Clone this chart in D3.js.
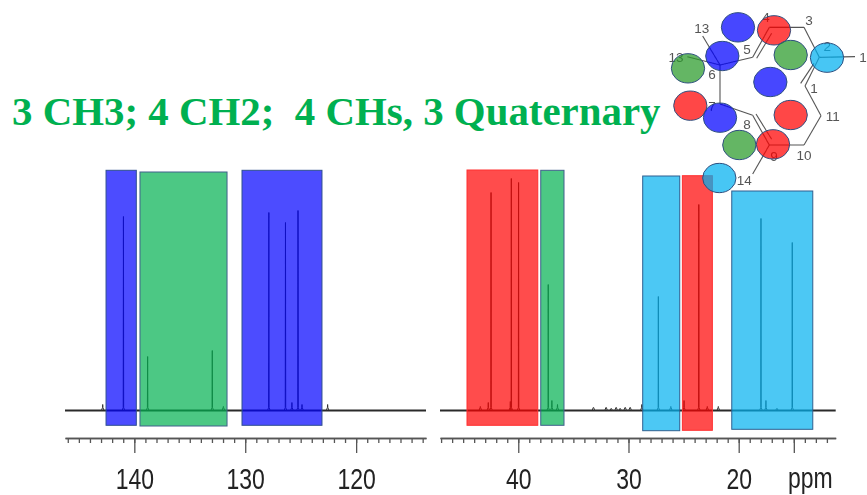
<!DOCTYPE html>
<html>
<head>
<meta charset="utf-8">
<script src="https://cdn.jsdelivr.net/npm/d3@7"></script>
<style>
  html, body { margin: 0; background: #fff; overflow: hidden; }
  svg { display: block; }
  text { font-family: "Liberation Sans", sans-serif; }
</style>
</head>
<body>
<svg id="board"></svg>
<script>
let titleText = '3 CH3; 4 CH2;  4 CHs, 3 Quaternary'

// peaks: ppm and intensity (tallest aromatic line = 100)
let leftPpm = [142.85, 140.98, 138.8, 132.97, 131.97, 127.87, 126.37, 125.79, 125.24, 124.88, 122.57]
let leftInt = [3, 97, 27, 30, 2, 99, 94, 4, 100, 3, 3]
let rightPpm = [43.44, 42.72, 42.47, 40.72, 40.63, 39.97, 37.28, 36.95, 36.44, 33.18, 32.03, 31.57, 31.12, 30.76, 30.3, 29.85, 28.79, 27.29, 26.16, 24.96, 23.62, 22.85, 21.85, 17.98, 17.53, 16.53, 15.14]
let rightInt = [2, 4, 109, 4.5, 116, 114, 63, 5, 3, 1.5, 1.5, 1, 1.5, 1, 1.5, 1.5, 3, 57, 2, 5, 103, 2, 2, 96, 5, 1, 84]

// coloured assignment bands: ppm from/to, intensity top/bottom
let bandPanel = ['L', 'L', 'L', 'R', 'R', 'R', 'R', 'R']
let bandFrom = [142.55, 139.49, 130.29, 44.65, 37.96, 28.71, 25.11, 20.63]
let bandTo = [139.82, 131.64, 123.08, 38.23, 35.85, 25.35, 22.39, 13.28]
let bandTop = [120.1, 119.25, 120.1, 120.25, 120.1, 117.25, 117.4, 109.75]
let bandBottom = [-7.4, -7.75, -7.4, -7.4, -7.4, -10.1, -9.9, -9.4]
let bandKind = ['CH', 'Q', 'CH', 'CH2', 'Q', 'CH3', 'CH2', 'CH3']

let leftMajor = [140, 130, 120]
let rightMajor = [40, 30, 20, 15]
let leftMinor = d3.range(114, 147)
let rightMinor = d3.range(12, 48)

// molecule, in its own drawing units
let atomId = [1, 2, 3, 4, 5, 6, 7, 8, 9, 10, 11, 12, 13, 15, 14]
let atomX = [435, 478, 432, 328, 278, 180, 180, 278, 328, 432, 483, 585, 128, 82, 278]
let atomY = [258, 172, 82, 82, 172, 195, 312, 346, 435, 435, 347, 170, 108, 170, 522]
let bondFrom = [1, 1, 11, 10, 9, 8, 7, 6, 5, 4, 3, 2, 6, 6, 9]
let bondTo = [2, 11, 10, 9, 8, 7, 6, 5, 4, 3, 2, 12, 13, 15, 14]
let doubleX1 = [422, 290, 288]
let doubleY1 = [250, 175, 342]
let doubleX2 = [462, 335, 335]
let doubleY2 = [190, 100, 418]
let labelText = ['1', '2', '3', '4', '5', '6', '7', '8', '9', '10', '11', '12', '13', '13', '14']
let labelX = [462, 502, 447, 318, 261, 156, 156, 261, 342, 432, 518, 620, 125, 48, 253]
let labelY = [267, 142, 63, 55, 150, 227, 323, 377, 472, 468, 351, 176, 88, 174, 543]
let spotX = [234, 342, 187, 392, 501, 84, 331, 91, 180, 392, 238, 339, 178]
let spotY = [82, 91, 168, 165, 173, 205, 246, 317, 353, 345, 435, 433, 534]
let spotKind = ['CH', 'CH2', 'CH', 'Q', 'CH3', 'Q', 'CH', 'CH2', 'CH', 'CH2', 'Q', 'CH2', 'CH3']

let width = 867
let height = 495

let fillFor = { CH: '#0000ff', CH2: '#ff0000', Q: '#00b050', CH3: '#00b0f0' }
let edgeFor = { CH: '#2f4f8f', CH2: '#ff3030', Q: '#41608c', CH3: '#2f5f8f' }
let spotFill = { CH: '#0000ff', CH2: '#ff0000', Q: '#2a9a2a', CH3: '#00b0f0' }

let board = d3.select('#board')
              .attr('width', width)
              .attr('height', height)

let soft = board.append('defs').append('filter').attr('id', 'soft')
soft.append('feGaussianBlur').attr('stdDeviation', 0.45)

let leftScale = d3.scaleLinear().domain([146.25, 113.7]).range([65, 426])
let rightScale = d3.scaleLinear().domain([47.1, 11.2]).range([440, 835.7])
let yScale = d3.scaleLinear().domain([0, 100]).range([410.5, 210.5])

let spectrum = board.append('g').attr('filter', 'url(#soft)')

let drawPanel = function(scale, ppm, intensity) {
    spectrum.append('line')
            .attr('x1', scale.range()[0])
            .attr('x2', scale.range()[1])
            .attr('y1', yScale(0))
            .attr('y2', yScale(0))
            .attr('stroke', '#2a2a2a')
            .attr('stroke-width', 2.2)

    let peak = d3.line()
                 .x((d) => scale(d[0]))
                 .y((d) => yScale(d[1]))

    spectrum.selectAll(null)
            .data(ppm)
            .enter()
            .append('path')
            .attr('d', (p, i) => {
                let top = intensity[i]
                let foot = Math.min(top, 1.5)
                return peak([[p + 0.12, 0], [p + 0.02, foot], [p, top], [p - 0.02, foot], [p - 0.12, 0]])
            })
            .attr('fill', 'none')
            .attr('stroke', '#333')
            .attr('stroke-width', 1)
}

let drawAxis = function(scale, minor, major, labelled) {
    let axisY = 438
    let minorAxis = d3.axisBottom(scale)
                      .tickValues(minor)
                      .tickSizeInner(5)
                      .tickSizeOuter(0)
                      .tickFormat('')
    let majorAxis = d3.axisBottom(scale)
                      .tickValues(major)
                      .tickSizeInner(15)
                      .tickSizeOuter(0)
                      .tickFormat((d) => labelled.includes(d) ? d : '')

    let g = board.append('g')
                 .attr('transform', 'translate(0,' + axisY + ')')
                 .attr('filter', 'url(#soft)')
    g.append('g').call(minorAxis)
    let big = g.append('g').call(majorAxis)

    g.selectAll('path, line').attr('stroke', '#555').attr('stroke-width', 1.3)
    big.selectAll('text')
       .attr('y', null)
       .attr('dy', null)
       .attr('transform', 'translate(0,50.5) scale(1,1.32)')
       .attr('font-size', 23)
       .attr('font-family', '"Liberation Sans", sans-serif')
       .attr('fill', '#222')
}

let drawBands = function() {
    board.selectAll('rect.band')
         .data(bandFrom)
         .enter()
         .append('rect')
         .attr('class', 'band')
         .attr('x', (d, i) => (bandPanel[i] === 'L' ? leftScale : rightScale)(d))
         .attr('width', (d, i) => {
             let s = bandPanel[i] === 'L' ? leftScale : rightScale
             return s(bandTo[i]) - s(d)
         })
         .attr('y', (d, i) => yScale(bandTop[i]))
         .attr('height', (d, i) => yScale(bandBottom[i]) - yScale(bandTop[i]))
         .attr('fill', (d, i) => fillFor[bandKind[i]])
         .attr('fill-opacity', 0.7)
         .attr('stroke', (d, i) => edgeFor[bandKind[i]])
         .attr('stroke-width', 1)
}

let drawMolecule = function() {
    let mx = d3.scaleLinear().domain([0, 621]).range([660, 867])
    let my = d3.scaleLinear().domain([0, 600]).range([0, 200])
    let mol = board.append('g').attr('filter', 'url(#soft)')
    let at = (id) => atomId.indexOf(id)

    mol.selectAll('line.bond')
       .data(bondFrom)
       .enter()
       .append('line')
       .attr('class', 'bond')
       .attr('x1', (d) => mx(atomX[at(d)]))
       .attr('y1', (d) => my(atomY[at(d)]))
       .attr('x2', (d, i) => mx(atomX[at(bondTo[i])]))
       .attr('y2', (d, i) => my(atomY[at(bondTo[i])]))
       .attr('stroke', '#555')
       .attr('stroke-width', 1.1)

    mol.selectAll('line.second')
       .data(doubleX1)
       .enter()
       .append('line')
       .attr('class', 'second')
       .attr('x1', (d) => mx(d))
       .attr('y1', (d, i) => my(doubleY1[i]))
       .attr('x2', (d, i) => mx(doubleX2[i]))
       .attr('y2', (d, i) => my(doubleY2[i]))
       .attr('stroke', '#555')
       .attr('stroke-width', 1.1)

    mol.selectAll('text')
       .data(labelText)
       .enter()
       .append('text')
       .text((d) => d)
       .attr('x', (d, i) => mx(labelX[i]))
       .attr('y', (d, i) => my(labelY[i]))
       .attr('text-anchor', 'middle')
       .attr('dominant-baseline', 'middle')
       .attr('font-size', 13.5)
       .attr('fill', '#555')

    mol.selectAll('ellipse')
       .data(spotX)
       .enter()
       .append('ellipse')
       .attr('cx', (d) => mx(d))
       .attr('cy', (d, i) => my(spotY[i]))
       .attr('rx', mx(50) - mx(0))
       .attr('ry', my(44) - my(0))
       .attr('fill', (d, i) => spotFill[spotKind[i]])
       .attr('fill-opacity', 0.72)
       .attr('stroke', '#2f4f7f')
       .attr('stroke-width', 1)
}

drawPanel(leftScale, leftPpm, leftInt)
drawPanel(rightScale, rightPpm, rightInt)
drawAxis(leftScale, leftMinor, leftMajor, [140, 130, 120])
drawAxis(rightScale, rightMinor, rightMajor, [40, 30, 20])
drawBands()
drawMolecule()

board.append('text')
     .text('ppm')
     .attr('transform', 'translate(788,488) scale(1,1.32)')
     .attr('font-size', 23)
     .attr('fill', '#222')
     .attr('filter', 'url(#soft)')

board.append('text')
     .text(titleText)
     .attr('x', 12)
     .attr('y', 124.5)
     .style('white-space', 'pre')
     .style('font-family', '"Liberation Serif", serif')
     .style('font-weight', 'bold')
     .style('font-size', '40.9px')
     .attr('fill', '#00b050')
</script>
</body>
</html>
